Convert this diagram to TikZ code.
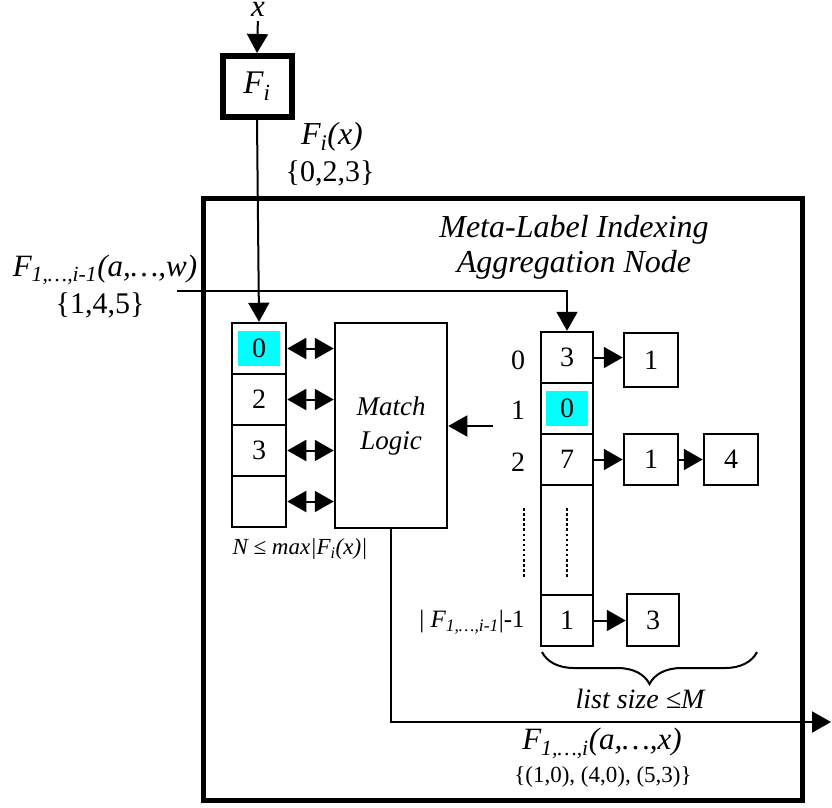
\documentclass[tikz,border=0pt]{standalone}
\usepackage{fontspec}
\setmainfont{Liberation Serif}
\usetikzlibrary{arrows.meta,decorations.pathreplacing}
\definecolor{hlcyan}{RGB}{0,255,255}
\begin{document}
\begin{tikzpicture}[x=1pt,y=-1pt,
  line join=miter,
  cell/.style={draw,line width=2.5pt,minimum width=52pt,minimum height=51pt,inner sep=0pt,
     font=\fontsize{28}{32}\selectfont},
  hl/.style={fill=hlcyan,minimum width=42pt,minimum height=35pt,inner sep=0pt,
     font=\fontsize{28}{32}\selectfont},
  lbl/.style={inner sep=0pt,align=center,font=\fontsize{30}{34}\selectfont},
  conn/.style={line width=2pt,-{Triangle[length=19pt,width=21pt]}},
  dbl/.style={line width=2pt,{Triangle[length=19pt,width=21pt]}-{Triangle[length=19pt,width=21pt]}},
  dots/.style={line width=2.5pt,dash pattern=on 2.5pt off 2.6pt}
]
\useasboundingbox (0,0) rectangle (832,807);

% big container
\node[draw,line width=5pt,minimum width=599pt,minimum height=602pt,inner sep=0pt] (big) at (502.5,499) {};
\node[lbl,font=\fontsize{32}{35}\selectfont\itshape] (title) at (574,247) {Meta-Label Indexing\\Aggregation Node};

% input x and F_i
\node[lbl,anchor=base,text height=14pt,text depth=0pt,font=\fontsize{31}{34}\selectfont] (xlab) at (258,16) {\textit{x}};
\node[draw,line width=6pt,minimum width=69pt,minimum height=61pt,inner sep=0pt,
      font=\fontsize{33}{36}\selectfont] (Fi) at (257,86.5) {\textit{F\textsubscript{i}}};
\draw[conn,shorten <=5pt] (xlab.south) -- (Fi.north);
\node[lbl,font=\fontsize{32}{36}\selectfont] (fix) at (332,137) {\textit{F\textsubscript{i}(x)}};
\node[lbl] (fixset) at (330,173) {\{0,2,3\}};

% left array
\node[cell,minimum width=54pt] (L0) at (259,348.5) {};
\node[hl] (L0h) at (L0) {0};
\node[cell,minimum width=54pt] (L1) at (259,399.5) {2};
\node[cell,minimum width=54pt] (L2) at (259,450.5) {3};
\node[cell,minimum width=54pt] (L3) at (259,501.5) {};
\draw[conn] (Fi.south) -- (L0.north);
\node[lbl,font=\fontsize{23}{27}\selectfont] (nlab) at (300,549) {\textit{N ≤ max|F\textsubscript{i}(x)|}};

% match logic
\node[draw,line width=2.5pt,minimum width=112pt,minimum height=205pt,inner sep=0pt,align=center,
      font=\fontsize{27}{34}\selectfont\itshape] (ML) at (391,425.5) {Match\\Logic};
\foreach \c in {L0,L1,L2,L3}{
  \draw[dbl] (\c.east) -- (ML.west |- \c.east);
}

% input F_{1..i-1}
\node[lbl,font=\fontsize{31}{35}\selectfont] (inlab) at (105,270) {\textit{F\textsubscript{1,…,i-1}(a,…,w)}};
\node[lbl] (inset) at (100,305) {\{1,4,5\}};
\coordinate (in) at (177,291);

% right array
\node[cell] (R0) at (567,357.5) {3};
\node[cell] (R1) at (567,408.5) {};
\node[hl] (R1h) at (R1) {0};
\node[cell] (R2) at (567,459.5) {7};
\node[cell,minimum height=110pt] (R3) at (567,540) {};
\node[cell] (R4) at (567,620.5) {1};
\draw[conn] (in) -| (R0.north);

\node[lbl,font=\fontsize{28}{32}\selectfont] (i0) at (518,360) {0};
\node[lbl,font=\fontsize{28}{32}\selectfont] (i1) at (518,410) {1};
\node[lbl,font=\fontsize{28}{32}\selectfont] (i2) at (518,462) {2};
\node[lbl,font=\fontsize{25}{29}\selectfont] (i3) at (472,622) {| \textit{F\textsubscript{1,…,i-1}}|-1};

\draw[dots] (524,508) -- (524,578);
\draw[dots] (567,508) -- (567,578);

% linked lists
\node[cell,minimum width=54pt,minimum height=54pt] (A0) at (651,360) {1};
\node[cell,minimum width=54pt] (B1) at (651,459.5) {1};
\node[cell,minimum width=54pt] (B2) at (731,459.5) {4};
\node[cell,minimum width=52pt,minimum height=52pt] (C1) at (653,620) {3};
\draw[conn] (R0.east) -- (R0.east -| A0.west);
\draw[conn] (R2.east) -- (B1.west);
\draw[conn] (B1.east) -- (B2.west);
\draw[conn] (R4.east) -- (R4.east -| C1.west);

% brace
\coordinate (bl) at (542,652);
\coordinate (br) at (757,652);
\draw[line width=2pt,decorate,decoration={brace,mirror,amplitude=32pt}] (bl) -- (br);
\node[lbl,font=\fontsize{28}{32}\selectfont\itshape] (lsz) at (640,699) {list size ≤M};

% feedback into match logic
\coordinate (fb) at (493,426);
\draw[conn] (fb) -- (ML.east |- fb);

% output
\coordinate (out) at (831,722);
\draw[conn] (ML.south) |- (out);
\node[lbl,font=\fontsize{31}{35}\selectfont] (outlab) at (602,743) {\textit{F\textsubscript{1,…,i}(a,…,x)}};
\node[lbl,font=\fontsize{23}{27}\selectfont] (outset) at (603,777) {\{(1,0), (4,0), (5,3)\}};
\end{tikzpicture}
\end{document}
